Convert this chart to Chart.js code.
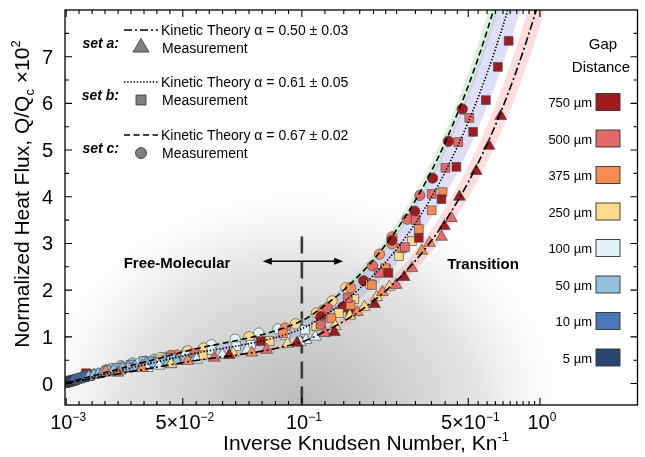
<!DOCTYPE html>
<html>
<head>
<meta charset="utf-8">
<title>Normalized heat flux vs inverse Knudsen number</title>
<script src="https://cdn.jsdelivr.net/npm/chart.js@4.4.1/dist/chart.umd.min.js"></script>
<style>
  html, body { margin: 0; padding: 0; background: #fff; }
  #heatFluxChart { display: block; }
</style>
</head>
<body>
<canvas id="heatFluxChart" width="645" height="457"></canvas>
<script>
/* DATA */
// Inverse Knudsen numbers where the kinetic theory curves are read
const theoryKn = [0.001, 0.05, 0.1, 0.12, 0.15, 0.2, 0.25, 0.3, 0.35, 0.4, 0.5, 0.6, 0.7, 0.8, 0.9, 1.0, 1.2];

// Kinetic theory curves, Q/Qc x 10^2
const theoryA = [0.009, 0.448, 0.893, 1.070, 1.333, 1.770, 2.203, 2.632, 3.057, 3.478, 4.310, 5.128, 5.932, 6.723, 7.500, 8.264, 9.756];
const theoryB = [0.012, 0.590, 1.172, 1.404, 1.748, 2.318, 2.880, 3.436, 3.986, 4.530, 5.599, 6.645, 7.667, 8.667, 9.646, 10.60, 12.46];
const theoryC = [0.014, 0.676, 1.343, 1.608, 2.001, 2.651, 3.292, 3.924, 4.548, 5.165, 6.374, 7.552, 8.701, 9.822, 10.92, 11.98, 14.04];

// Uncertainty bands around each curve (alpha +/- error)
const bandALow  = [0.008, 0.413, 0.823, 0.986, 1.230, 1.633, 2.033, 2.429, 2.823, 3.213, 3.984, 4.743, 5.490, 6.226, 6.950, 7.663, 9.057];
const bandAHigh = [0.010, 0.485, 0.965, 1.156, 1.441, 1.912, 2.379, 2.841, 3.299, 3.752, 4.647, 5.525, 6.387, 7.233, 8.065, 8.881, 10.47];
const bandBLow  = [0.011, 0.523, 1.041, 1.246, 1.553, 2.060, 2.561, 3.058, 3.550, 4.036, 4.995, 5.935, 6.856, 7.759, 8.646, 9.515, 11.21];
const bandBHigh = [0.013, 0.661, 1.314, 1.573, 1.958, 2.594, 3.222, 3.841, 4.453, 5.057, 6.242, 7.398, 8.526, 9.627, 10.70, 11.75, 13.77];
const bandCLow  = [0.013, 0.646, 1.285, 1.537, 1.914, 2.536, 3.151, 3.757, 4.356, 4.947, 6.109, 7.242, 8.348, 9.428, 10.48, 11.51, 13.51];
const bandCHigh = [0.014, 0.707, 1.404, 1.679, 2.091, 2.768, 3.436, 4.096, 4.746, 5.387, 6.645, 7.869, 9.061, 10.22, 11.36, 12.47, 14.62];

// Gap distances, in legend order
const gapLabels = ['750 µm', '500 µm', '375 µm', '250 µm', '100 µm', '50 µm', '10 µm', '5 µm'];
const gapColors = ['#9e1b20', '#e26b69', '#f78b55', '#fedb8b', '#e1f3f8', '#93c0dd', '#4a78b8', '#29476f'];

// Measurements [Kn^-1, Q/Qc x 10^2], one list per gap distance (legend order)
const setA = [ // triangles
    [[0.685, 5.73], [0.611, 5.09], [0.540, 4.55], [0.459, 4.00], [0.397, 3.37], [0.269, 2.28], [0.202, 1.70], [0.137, 1.10], [0.098, 0.87], [0.0695, 0.61]],
    [[0.425, 3.54], [0.386, 3.14], [0.290, 2.47], [0.249, 2.11], [0.125, 1.08], [0.0852, 0.72], [0.0632, 0.55], [0.0226, 0.23]],
    [[0.344, 3.01], [0.319, 2.84], [0.218, 1.96], [0.171, 1.53], [0.079, 0.66], [0.052, 0.48], [0.033, 0.33], [0.0176, 0.26]],
    [[0.233, 2.07], [0.206, 1.85], [0.183, 1.64], [0.159, 1.45], [0.138, 1.23], [0.094, 0.85], [0.0711, 0.65], [0.045, 0.42]],
    [[0.114, 1.00], [0.104, 0.93], [0.0993, 0.89], [0.077, 0.72], [0.0666, 0.61], [0.0558, 0.51], [0.045, 0.41], [0.040, 0.38], [0.035, 0.33]],
    [[0.0105, 0.15], [0.0126, 0.18], [0.0145, 0.20], [0.0164, 0.23], [0.0188, 0.27], [0.021, 0.29], [0.0247, 0.33], [0.027, 0.34], [0.030, 0.36],
     [0.033, 0.38], [0.0354, 0.40], [0.038, 0.43], [0.0417, 0.46], [0.044, 0.47], [0.0475, 0.48], [0.051, 0.50], [0.055, 0.52]],
    [[0.004, 0.06], [0.005, 0.08], [0.006, 0.09], [0.007, 0.11], [0.008, 0.12], [0.009, 0.14], [0.010, 0.14]],
    [[0.001, 0.02], [0.0015, 0.02], [0.002, 0.03], [0.0025, 0.04], [0.003, 0.04], [0.0035, 0.05]]
];
const setB = [ // squares
    [[0.739, 7.34], [0.666, 6.78], [0.593, 6.07], [0.524, 5.39], [0.446, 4.64], [0.386, 3.95], [0.310, 3.12], [0.231, 2.37], [0.160, 1.49], [0.0827, 0.91], [0.0093, 0.22]],
    [[0.505, 5.69], [0.454, 5.17], [0.401, 4.62], [0.351, 4.06], [0.301, 3.50], [0.271, 2.92], [0.211, 2.37], [0.156, 1.83], [0.120, 1.26], [0.055, 0.65], [0.028, 0.35]],
    [[0.390, 4.10], [0.351, 3.71], [0.310, 3.31], [0.264, 2.90], [0.224, 2.47], [0.197, 2.11], [0.160, 1.68], [0.133, 1.40], [0.120, 1.28], [0.092, 1.08]],
    [[0.290, 3.05], [0.256, 2.73], [0.226, 2.45], [0.194, 2.13], [0.166, 1.81], [0.143, 1.51], [0.115, 1.23], [0.0865, 0.91], [0.0583, 0.61], [0.040, 0.45], [0.025, 0.33]],
    [[0.103, 1.15], [0.0931, 1.04], [0.0786, 0.83], [0.0724, 0.80], [0.062, 0.72], [0.051, 0.60], [0.041, 0.50]],
    [[0.015, 0.22], [0.019, 0.28], [0.023, 0.33], [0.028, 0.40], [0.0334, 0.48], [0.036, 0.47], [0.0404, 0.46], [0.045, 0.55], [0.0508, 0.55]],
    [[0.0045, 0.08], [0.005, 0.08], [0.006, 0.10], [0.007, 0.11], [0.008, 0.13], [0.009, 0.14], [0.011, 0.17]],
    [[0.0008, 0.01], [0.0012, 0.02], [0.0016, 0.03], [0.002, 0.03], [0.0025, 0.04], [0.003, 0.05], [0.0035, 0.05], [0.004, 0.06]]
];
const setC = [ // circles
    [[0.472, 5.88], [0.413, 5.19], [0.354, 4.40], [0.298, 3.69], [0.239, 3.07], [0.182, 2.20], [0.149, 1.64], [0.120, 1.43]],
    [[0.313, 4.03], [0.277, 3.52], [0.198, 2.52], [0.128, 1.62], [0.045, 0.60]],
    [[0.239, 3.14], [0.239, 2.99], [0.212, 2.77], [0.160, 2.05], [0.123, 1.57], [0.093, 1.19], [0.0475, 0.61], [0.0176, 0.29]],
    [[0.153, 2.05], [0.134, 1.77], [0.115, 1.51], [0.0973, 1.28], [0.0778, 1.00], [0.0587, 0.76], [0.052, 0.70], [0.0404, 0.55], [0.0247, 0.30]],
    [[0.090, 1.17], [0.0819, 1.08], [0.072, 0.95], [0.062, 0.83], [0.0516, 0.68], [0.0412, 0.55], [0.032, 0.44]],
    [[0.020, 0.32], [0.024, 0.38], [0.0288, 0.44], [0.034, 0.48], [0.038, 0.52], [0.043, 0.56]],
    [[0.006, 0.10], [0.009, 0.15], [0.012, 0.19]],
    [[0.0015, 0.03], [0.003, 0.05]]
];

// Axis ticks
const xMajorTicks = [0.001, 0.05, 0.1, 0.5, 1];
const xMajorLabels = [['10', '−3'], ['5×10', '−2'], ['10', '−1'], ['5×10', '−1'], ['10', '0']];
const xMinorTicks = [0.0064, 0.0119, 0.0173, 0.0228, 0.0282, 0.0337, 0.0391, 0.0446,
    0.0556, 0.0611, 0.0667, 0.0722, 0.0778, 0.0833, 0.0889, 0.0944,
    0.125, 0.15, 0.175, 0.2, 0.225, 0.25, 0.3, 0.35, 0.4, 0.45,
    0.55, 0.6, 0.65, 0.7, 0.75, 0.8, 0.85, 0.9, 0.95];
const yMajorTicks = [0, 1, 2, 3, 4, 5, 6, 7];
const yMinorTicks = [0.5, 1.5, 2.5, 3.5, 4.5, 5.5, 6.5, 7.5];

/* AXIS MAPPING */
// x axis is linear up to Kn^-1 = 0.1 and logarithmic above it
function toAxis(kn) {
    return kn <= 0.1 ? kn * 10 : 2 + Math.log10(kn);
}
function curve(values) {
    return theoryKn.map((k, i) => ({ x: toAxis(k), y: values[i] }));
}
function points(list) {
    return list.map(p => ({ x: toAxis(p[0]), y: p[1] }));
}

const FONT = '"Liberation Sans", Arial, Helvetica, sans-serif';

/* DATASETS */
const datasets = [];

// shaded bands (lower edge, then upper edge filled down to it)
function addBand(low, high, color) {
    datasets.push({ type: 'line', data: curve(low), borderWidth: 0, pointRadius: 0, cubicInterpolationMode: 'monotone', fill: false, order: 3 });
    datasets.push({ type: 'line', data: curve(high), borderWidth: 0, pointRadius: 0, cubicInterpolationMode: 'monotone', fill: '-1', backgroundColor: color, order: 3 });
}
addBand(bandALow, bandAHigh, 'rgba(248, 150, 150, 0.32)');
addBand(bandBLow, bandBHigh, 'rgba(150, 150, 240, 0.30)');
addBand(bandCLow, bandCHigh, 'rgba(150, 215, 150, 0.35)');

// measurements
const shapes = [['triangle', 6.8, setA], ['rect', 6.2, setB], ['circle', 5.2, setC]];
shapes.forEach(([style, radius, set]) => {
    set.forEach((list, g) => {
        datasets.push({
            type: 'scatter',
            data: points(list),
            pointStyle: style,
            pointRadius: radius,
            backgroundColor: gapColors[g],
            borderColor: 'rgba(60, 60, 60, 0.85)',
            pointBorderWidth: 0.7,
            order: 2
        });
    });
});

// kinetic theory curves
function addTheory(values, dash) {
    datasets.push({
        type: 'line',
        data: curve(values),
        borderColor: '#000',
        borderWidth: 1.6,
        borderDash: dash,
        pointRadius: 0,
        fill: false,
        cubicInterpolationMode: 'monotone',
        order: 1
    });
}
addTheory(theoryA, [8, 3, 2, 3]);
addTheory(theoryB, [1.4, 1.8]);
addTheory(theoryC, [6, 3.5]);

/* DRAW HELPERS */
// draw text runs with optional super/subscripts; y is the baseline
function drawRuns(ctx, runs, x, y, size, align, weight) {
    const fontFor = kind => `${weight || ''} ${kind ? Math.round(size * 0.62) : size}px ${FONT}`;
    let total = 0;
    const widths = runs.map(([text, kind]) => {
        ctx.font = fontFor(kind);
        const w = ctx.measureText(text).width;
        total += w;
        return w;
    });
    let cx = align === 'center' ? x - total / 2 : align === 'right' ? x - total : x;
    ctx.textAlign = 'left';
    ctx.textBaseline = 'alphabetic';
    runs.forEach(([text, kind], i) => {
        ctx.font = fontFor(kind);
        const dy = kind === 'sup' ? -size * 0.42 : kind === 'sub' ? size * 0.22 : 0;
        ctx.fillText(text, cx, y + dy);
        cx += widths[i];
    });
}

function drawMarker(ctx, style, x, y, r, fill) {
    ctx.beginPath();
    if (style === 'triangle') {
        ctx.moveTo(x, y - r);
        ctx.lineTo(x + r * 0.95, y + r * 0.6);
        ctx.lineTo(x - r * 0.95, y + r * 0.6);
        ctx.closePath();
    } else if (style === 'rect') {
        ctx.rect(x - r, y - r, 2 * r, 2 * r);
    } else {
        ctx.arc(x, y, r, 0, Math.PI * 2);
    }
    ctx.fillStyle = fill;
    ctx.fill();
    ctx.strokeStyle = '#333';
    ctx.lineWidth = 0.8;
    ctx.stroke();
}

/* PLUGIN: background, frame, ticks, labels, legends */
const decorations = {
    id: 'decorations',
    beforeDatasetsDraw(chart) {
        const { ctx, chartArea: a, scales: { x, y } } = chart;
        ctx.save();
        ctx.beginPath();
        ctx.rect(a.left, a.top, a.right - a.left, a.bottom - a.top);
        ctx.clip();

        // grey radial shading behind the data
        ctx.save();
        ctx.translate(300, 418);
        ctx.scale(1.15, 1);
        const grad = ctx.createRadialGradient(0, 0, 0, 0, 0, 250);
        grad.addColorStop(0, '#b8b8b8');
        grad.addColorStop(0.3, '#cccccc');
        grad.addColorStop(0.65, '#e7e7e7');
        grad.addColorStop(1, 'rgba(255,255,255,0)');
        ctx.fillStyle = grad;
        ctx.fillRect(-400, -450, 800, 500);
        ctx.restore();

        // regime boundary at Kn^-1 = 0.1
        const bx = x.getPixelForValue(toAxis(0.1));
        ctx.strokeStyle = '#3a3a3a';
        ctx.lineWidth = 2.6;
        ctx.setLineDash([17, 8]);
        ctx.beginPath();
        ctx.moveTo(bx, y.getPixelForValue(3.15));
        ctx.lineTo(bx, a.bottom);
        ctx.stroke();
        ctx.restore();
    },
    afterDraw(chart) {
        const { ctx, chartArea: a, scales: { x, y } } = chart;
        ctx.save();
        ctx.fillStyle = '#000';
        ctx.strokeStyle = '#000';

        // frame
        ctx.lineWidth = 1.3;
        ctx.strokeRect(a.left, a.top, a.right - a.left, a.bottom - a.top);

        // inward ticks on all four sides
        ctx.lineWidth = 1.1;
        function xTick(k, len) {
            const px = x.getPixelForValue(toAxis(k));
            ctx.beginPath();
            ctx.moveTo(px, a.bottom); ctx.lineTo(px, a.bottom - len);
            ctx.moveTo(px, a.top); ctx.lineTo(px, a.top + len);
            ctx.stroke();
        }
        function yTick(v, len) {
            const py = y.getPixelForValue(v);
            ctx.beginPath();
            ctx.moveTo(a.left, py); ctx.lineTo(a.left + len, py);
            ctx.moveTo(a.right, py); ctx.lineTo(a.right - len, py);
            ctx.stroke();
        }
        xMajorTicks.forEach(k => xTick(k, 7));
        xMinorTicks.forEach(k => xTick(k, 4));
        yMajorTicks.forEach(v => yTick(v, 7));
        yMinorTicks.forEach(v => yTick(v, 4));

        // tick labels
        xMajorTicks.forEach((k, i) => {
            const px = x.getPixelForValue(toAxis(k));
            drawRuns(ctx, [[xMajorLabels[i][0], ''], [xMajorLabels[i][1], 'sup']], px + 2, a.bottom + 24, 20, 'center');
        });
        yMajorTicks.forEach(v => {
            drawRuns(ctx, [[String(v), '']], a.left - 12, y.getPixelForValue(v) + 7, 20, 'right');
        });

        // axis titles
        drawRuns(ctx, [['Inverse Knudsen Number, Kn', ''], ['-1', 'sup']], 366, 450, 21, 'center');
        ctx.save();
        ctx.translate(29, 194);
        ctx.rotate(-Math.PI / 2);
        drawRuns(ctx, [['Normalized Heat Flux, Q/Q', ''], ['c', 'sub'], [' ×10', ''], ['2', 'sup']], 0, 0, 21, 'center');
        ctx.restore();

        // regime labels and arrow
        drawRuns(ctx, [['Free-Molecular', '']], 177, 268, 15, 'center', 'bold');
        drawRuns(ctx, [['Transition', '']], 483, 269, 15, 'center', 'bold');
        const ay = y.getPixelForValue(2.62);
        const ax1 = x.getPixelForValue(toAxis(0.0836));
        const ax2 = x.getPixelForValue(toAxis(0.149));
        ctx.lineWidth = 1.5;
        ctx.beginPath();
        ctx.moveTo(ax1 + 4, ay); ctx.lineTo(ax2 - 4, ay);
        ctx.stroke();
        [[ax1, 1], [ax2, -1]].forEach(([px, dir]) => {
            ctx.beginPath();
            ctx.moveTo(px, ay);
            ctx.lineTo(px + dir * 9, ay - 3.5);
            ctx.lineTo(px + dir * 9, ay + 3.5);
            ctx.closePath();
            ctx.fill();
        });

        // left legend: theory lines and measurement symbols
        const sets = [
            ['set a', '0.50 ± 0.03', [8, 3, 2, 3], 'triangle', 30],
            ['set b', '0.61 ± 0.05', [1.4, 1.8], 'rect', 82],
            ['set c', '0.67 ± 0.02', [6, 3.5], 'circle', 135]
        ];
        sets.forEach(([name, alpha, dash, style, ly]) => {
            ctx.font = `italic bold 14px ${FONT}`;
            ctx.textAlign = 'right';
            ctx.fillStyle = '#000';
            ctx.fillText(name + ':', 119, ly + 18);
            ctx.strokeStyle = '#000';
            ctx.lineWidth = 1.6;
            ctx.setLineDash(dash);
            ctx.beginPath();
            ctx.moveTo(124, ly); ctx.lineTo(158, ly);
            ctx.stroke();
            ctx.setLineDash([]);
            ctx.fillStyle = '#000';
            drawRuns(ctx, [['Kinetic Theory α = ' + alpha, '']], 161, ly + 5, 14, 'left');
            const r = style === 'triangle' ? 8.5 : style === 'rect' ? 5 : 5.5;
            drawMarker(ctx, style, 141, ly + (style === 'triangle' ? 17 : 18), r, '#7f7f7f');
            ctx.fillStyle = '#000';
            drawRuns(ctx, [['Measurement', '']], 162, ly + 23, 14, 'left');
        });

        // right legend: gap distance swatches
        ctx.fillStyle = '#000';
        drawRuns(ctx, [['Gap', '']], 603, 49, 15, 'center');
        drawRuns(ctx, [['Distance', '']], 601, 72, 15, 'center');
        gapLabels.forEach((label, i) => {
            const cy = 102 + i * 36.5;
            ctx.fillStyle = '#000';
            drawRuns(ctx, [[label, '']], 592, cy + 5, 13, 'right');
            ctx.fillStyle = gapColors[i];
            ctx.fillRect(596, cy - 8.5, 24, 17);
            ctx.strokeStyle = '#333';
            ctx.lineWidth = 0.9;
            ctx.strokeRect(596, cy - 8.5, 24, 17);
        });
        ctx.restore();
    }
};

/* CHART */
function initializeHeatFluxChart() {
    const ctx = document.getElementById('heatFluxChart').getContext('2d');
    new Chart(ctx, {
        type: 'scatter',
        data: { datasets: datasets },
        options: {
            responsive: false,
            animation: false,
            devicePixelRatio: 1,
            events: [],
            layout: { padding: { left: 65, right: 1, top: 10, bottom: 52 } },
            plugins: {
                legend: { display: false },
                tooltip: { enabled: false }
            },
            scales: {
                x: { type: 'linear', display: false, min: 0.005, max: 2.41 },
                y: { type: 'linear', display: false, min: -0.46, max: 8 }
            }
        },
        plugins: [decorations]
    });
}

document.addEventListener('DOMContentLoaded', initializeHeatFluxChart);
</script>
</body>
</html>
